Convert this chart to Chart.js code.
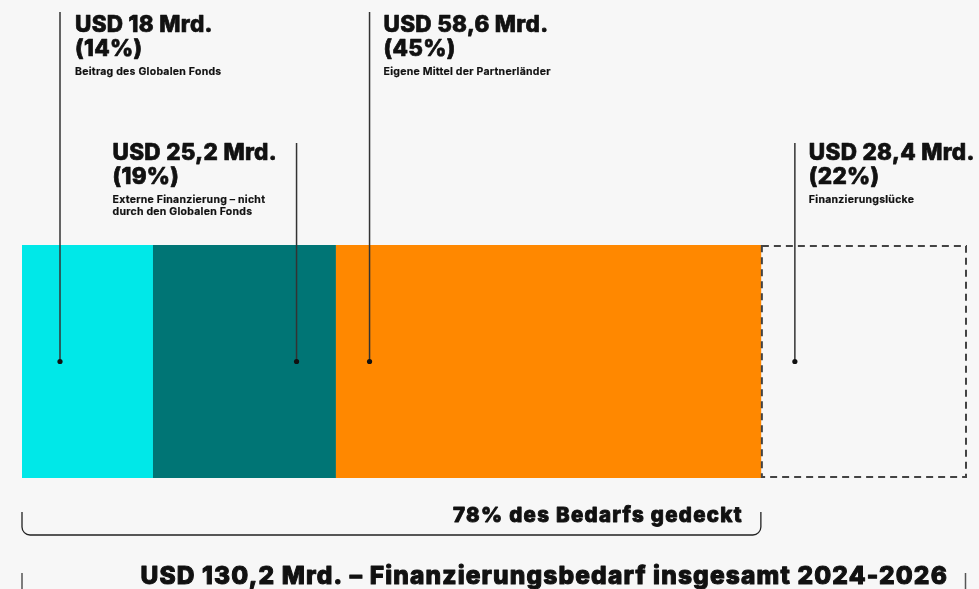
<!DOCTYPE html>
<html>
<head>
<meta charset="utf-8">
<script src="https://cdn.jsdelivr.net/npm/chart.js@4.4.1/dist/chart.umd.min.js"></script>
<style>
html,body{margin:0;padding:0;background:#f7f7f7;}
#wrap{width:979px;height:589px;position:relative;background:#f7f7f7;}
</style>
</head>
<body>
<div id="wrap"><canvas id="c" width="979" height="589"></canvas></div>
<script>
// ---- data ----
const categories = [
  ['Beitrag des Globalen Fonds'],
  ['Externe Finanzierung – nicht', 'durch den Globalen Fonds'],
  ['Eigene Mittel der Partnerländer'],
  ['Finanzierungslücke']
];
const amounts = [18, 25.2, 58.6, 28.4];
const shares = [14, 19, 45, 22];
const totalNeed = 130.2;
const coveredShare = 78;
const coveredLabel = 'des Bedarfs gedeckt';
const totalLabel = 'Finanzierungsbedarf insgesamt';
const period = '2024-2026';

const segColors = ['#00e8e8', '#007575', '#ff8800', 'rgba(0,0,0,0)'];
const FONT = 'Inter, "Noto Sans", sans-serif';
const fmtUSD = v => 'USD ' + String(v).replace('.', ',') + ' Mrd.';

function heavyText(ctx, text, x, y, font, spacing, stroke) {
  ctx.font = font;
  if ('letterSpacing' in ctx) ctx.letterSpacing = spacing + 'px';
  ctx.fillText(text, x, y);
  if (stroke) {
    ctx.lineWidth = stroke;
    ctx.lineJoin = 'round';
    ctx.strokeStyle = ctx.fillStyle;
    ctx.setLineDash([]);
    ctx.strokeText(text, x, y);
  }
  if ('letterSpacing' in ctx) ctx.letterSpacing = '0px';
}

const annotPlugin = {
  id: 'annot',
  afterDatasetsDraw(chart) {
    const ctx = chart.ctx;
    const area = chart.chartArea;
    const els = chart.data.datasets.map((d, i) => chart.getDatasetMeta(i).data[0]);

    // dashed box for the gap segment
    const g = els[3];
    const gl = Math.min(g.base, g.x), gr = Math.max(g.base, g.x);
    const gt = g.y - g.height / 2, gb = g.y + g.height / 2;
    ctx.save();
    ctx.strokeStyle = '#444';
    ctx.lineWidth = 2;
    ctx.setLineDash([7, 5]);
    ctx.strokeRect(gl + 1, gt + 1, gr - gl - 2, gb - gt - 2);
    ctx.restore();

    // leader lines and labels
    const rows = [{lineTop: 12, b1: 32, b2: 56, b3: 75}, {lineTop: 143, b1: 160, b2: 184, b3: 203}];
    const cfg = [
      {row: 0, fromStart: 38, textOff: 15},
      {row: 1, fromEnd: 39, textOff: -184},
      {row: 0, fromStart: 34, textOff: 14},
      {row: 1, fromStart: 34, textOff: 14}
    ];
    els.forEach((el, i) => {
      const c = cfg[i];
      const left = Math.min(el.base, el.x), right = Math.max(el.base, el.x);
      const lx = c.fromStart !== undefined ? left + c.fromStart : right - c.fromEnd;
      const r = rows[c.row];
      ctx.save();
      ctx.strokeStyle = '#333';
      ctx.lineWidth = 1.5;
      ctx.beginPath();
      ctx.moveTo(lx, r.lineTop);
      ctx.lineTo(lx, el.y);
      ctx.stroke();
      ctx.fillStyle = '#111';
      ctx.beginPath();
      ctx.arc(lx, el.y, 2.6, 0, Math.PI * 2);
      ctx.fill();

      const tx = lx + c.textOff;
      ctx.fillStyle = '#111';
      ctx.textAlign = 'left';
      ctx.textBaseline = 'alphabetic';
      heavyText(ctx, fmtUSD(amounts[i]), tx, r.b1, '800 22.5px ' + FONT, 0.3, 0.7);
      heavyText(ctx, '(' + shares[i] + '%)', tx, r.b2, '800 22.5px ' + FONT, 0.3, 0.7);
      categories[i].forEach((line, k) =>
        heavyText(ctx, line, tx, r.b3 + k * 12, '700 10.5px ' + FONT, 0.25, 0.2));
      ctx.restore();
    });

    // bracket under the covered part
    const L = area.left;
    const R = Math.max(els[2].x, els[2].base);
    const top = 512, bot = 535, rad = 8;
    ctx.save();
    ctx.strokeStyle = '#222';
    ctx.lineWidth = 1.3;
    ctx.beginPath();
    ctx.moveTo(L, top);
    ctx.lineTo(L, bot - rad);
    ctx.arcTo(L, bot, L + rad, bot, rad);
    ctx.lineTo(R - rad, bot);
    ctx.arcTo(R, bot, R, bot - rad, rad);
    ctx.lineTo(R, top);
    ctx.stroke();
    ctx.fillStyle = '#111';
    ctx.textAlign = 'right';
    ctx.textBaseline = 'alphabetic';
    heavyText(ctx, coveredShare + '% ' + coveredLabel, R - 18, 522, '800 20.5px ' + FONT, 1.3, 0.9);

    // total line
    ctx.strokeStyle = '#555';
    ctx.lineWidth = 1.5;
    ctx.beginPath();
    ctx.moveTo(area.left, 573); ctx.lineTo(area.left, 589);
    ctx.moveTo(area.right - 1.5, 573); ctx.lineTo(area.right - 1.5, 589);
    ctx.stroke();
    ctx.fillStyle = '#111';
    ctx.textAlign = 'right';
    heavyText(ctx, 'USD ' + String(totalNeed).replace('.', ',') + ' Mrd. – ' + totalLabel + ' ' + period,
      area.right - 19, 584, '800 24.5px ' + FONT, 1.15, 1.0);
    ctx.restore();
  }
};

new Chart(document.getElementById('c'), {
  type: 'bar',
  data: {
    labels: [''],
    datasets: categories.map((c, i) => ({
      label: c.join(' '),
      data: [amounts[i]],
      backgroundColor: segColors[i],
      borderWidth: 0,
      barPercentage: 1,
      categoryPercentage: 1
    }))
  },
  options: {
    indexAxis: 'y',
    responsive: false,
    animation: false,
    layout: {padding: {left: 22, right: 12, top: 245, bottom: 111}},
    plugins: {legend: {display: false}, tooltip: {enabled: false}},
    scales: {
      x: {stacked: true, min: 0, max: totalNeed, display: false},
      y: {stacked: true, display: false}
    }
  },
  plugins: [annotPlugin]
});
</script>
</body>
</html>
